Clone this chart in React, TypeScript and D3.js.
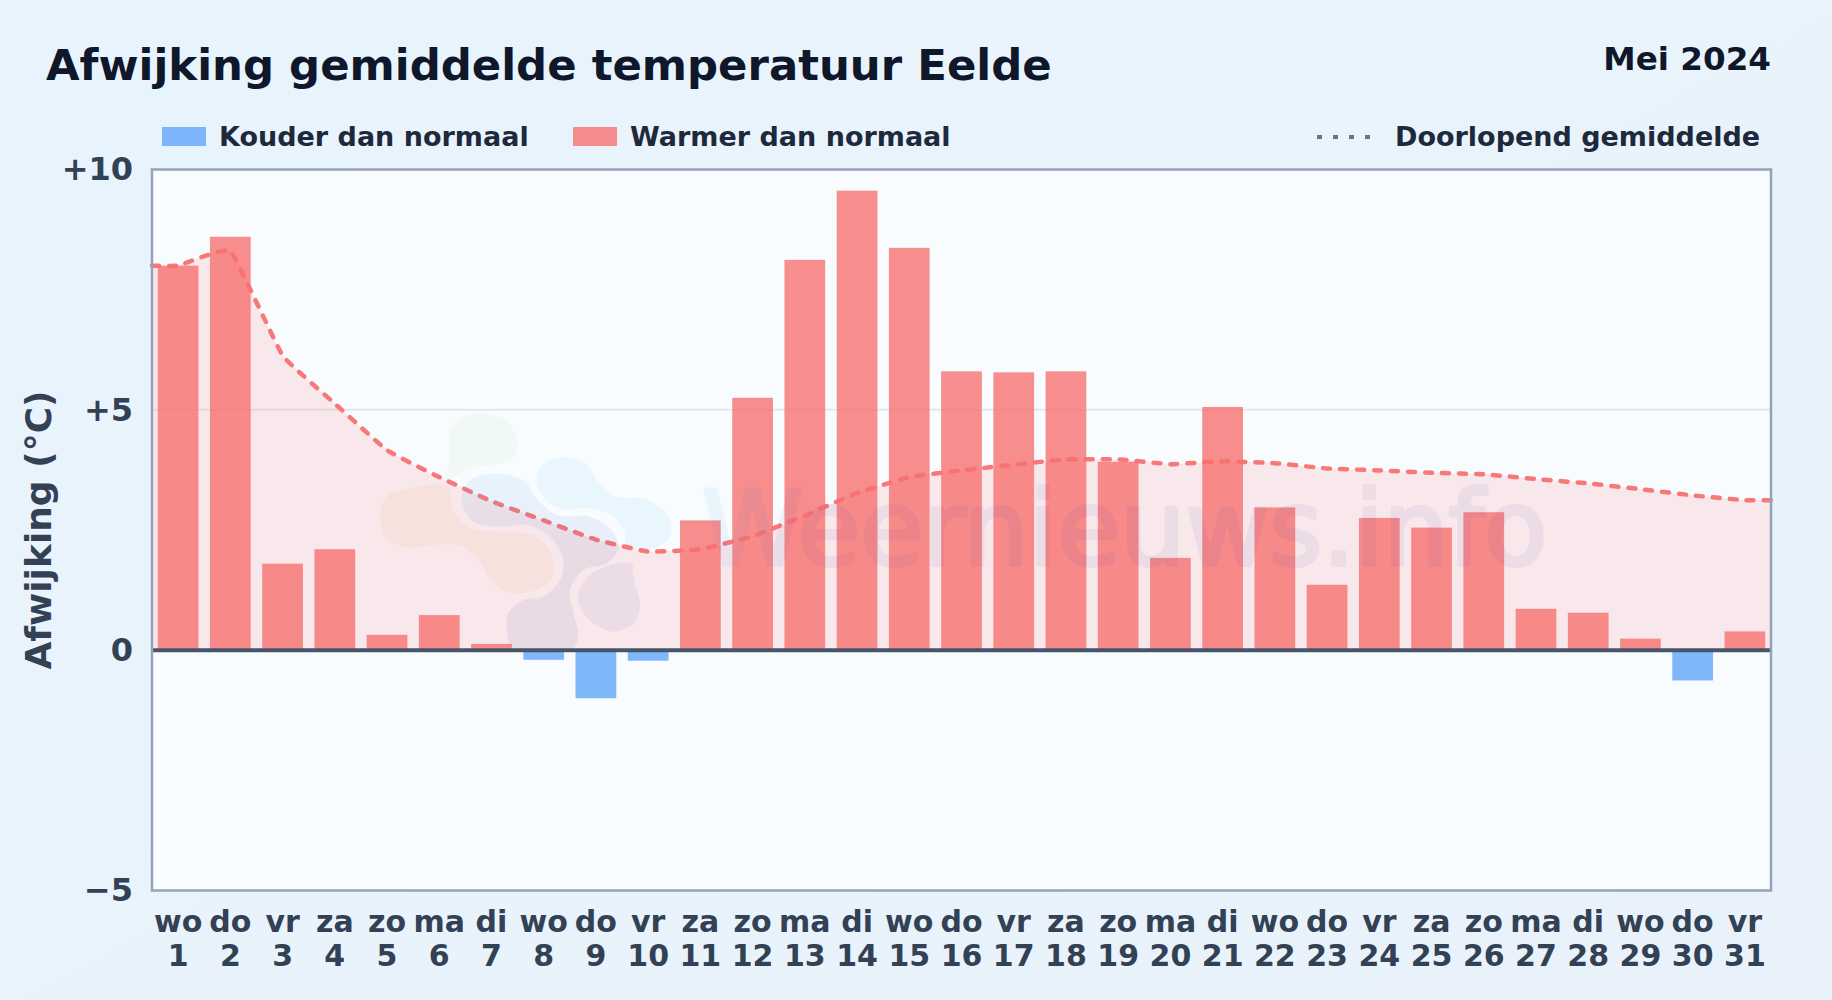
import * as d3 from 'd3';
import { useEffect, useRef } from 'react';

const WEEKDAYS = ['wo', 'do', 'vr', 'za', 'zo', 'ma', 'di', 'wo', 'do', 'vr', 'za', 'zo', 'ma', 'di', 'wo', 'do', 'vr', 'za', 'zo', 'ma', 'di', 'wo', 'do', 'vr', 'za', 'zo', 'ma', 'di', 'wo', 'do', 'vr'];
const DAYS = [1, 2, 3, 4, 5, 6, 7, 8, 9, 10, 11, 12, 13, 14, 15, 16, 17, 18, 19, 20, 21, 22, 23, 24, 25, 26, 27, 28, 29, 30, 31];
const DEVIATION = [8.0, 8.6, 1.8, 2.1, 0.32, 0.73, 0.13, -0.2, -1.0, -0.22, 2.7, 5.25, 8.12, 9.56, 8.37, 5.8, 5.78, 5.8, 3.92, 1.92, 5.06, 2.97, 1.36, 2.75, 2.55, 2.87, 0.86, 0.78, 0.24, -0.63, 0.39];
const RUNNING_MEAN = [8.0, 8.3, 6.13, 5.13, 4.16, 3.6, 3.1, 2.7, 2.3, 2.05, 2.1, 2.37, 2.8, 3.27, 3.6, 3.74, 3.86, 3.97, 3.97, 3.87, 3.93, 3.89, 3.78, 3.74, 3.69, 3.66, 3.56, 3.47, 3.35, 3.22, 3.12];
const Y_TICKS = [-5, 0, 5, 10];
const GRID_TICKS = [5];

const WIDTH = 1832;
const HEIGHT = 1000;
const FONT = '"DejaVu Sans", sans-serif';
const PLOT = { left: 152, right: 1771, top: 169.5, bottom: 890.5 };

// faint logo behind the watermark text, outlines traced at 3x from (360,400)
const LOGO: { points: [number, number][]; color: string; opacity: number }[] = [
  {
    points: [[268, 95], [310, 52], [375, 40], [440, 65], [472, 125], [458, 175], [400, 195], [330, 205], [290, 225], [255, 245], [268, 185], [268, 130]],
    color: '#8cc63f',
    opacity: 0.06,
  },
  {
    points: [[60, 340], [85, 285], [150, 265], [215, 255], [265, 260], [280, 330], [330, 385], [420, 395], [530, 410], [580, 480], [570, 540], [500, 578], [430, 570], [385, 530], [350, 470], [290, 435], [220, 435], [140, 442], [80, 415]],
    color: '#e8963a',
    opacity: 0.08,
  },
  {
    points: [[530, 230], [560, 185], [620, 172], [680, 195], [715, 245], [770, 290], [860, 298], [925, 350], [930, 410], [880, 445], [800, 435], [795, 400], [760, 350], [690, 325], [600, 325], [550, 290]],
    color: '#35a7f2',
    opacity: 0.07,
  },
  {
    points: [[305, 300], [330, 240], [420, 222], [495, 245], [530, 295], [590, 345], [690, 350], [750, 385], [775, 445], [740, 490], [670, 510], [630, 570], [640, 640], [655, 700], [640, 745], [460, 745], [440, 690], [445, 640], [490, 600], [550, 590], [600, 540], [610, 480], [570, 410], [500, 375], [420, 380], [340, 365]],
    color: 'url(#logo-mid)',
    opacity: 0.09,
  },
  {
    points: [[655, 580], [690, 525], [770, 490], [815, 490], [820, 530], [840, 620], [820, 670], [760, 695], [700, 670], [665, 630]],
    color: '#5a4b9e',
    opacity: 0.07,
  },
];

function App() {
  const svgRef = useRef<SVGSVGElement>(null);

  useEffect(() => {
    if (!svgRef.current) { return; }
    const svg = d3.select(svgRef.current);
    svg.selectAll('*').remove();

    const x = d3.scaleBand<number>()
      .domain(DAYS)
      .range([PLOT.left, PLOT.right])
      .paddingInner(0.22)
      .paddingOuter(0.11);
    const y = d3.scaleLinear().domain([-5, 10]).range([PLOT.bottom, PLOT.top]);
    const center = (day: number) => (x(day) as number) + x.bandwidth() / 2;

    const defs = svg.append('defs');
    const bg = defs.append('linearGradient').attr('id', 'page-bg')
      .attr('x1', 0).attr('y1', 0).attr('x2', 1).attr('y2', 1);
    bg.append('stop').attr('offset', '0%').attr('stop-color', '#e8f4fd');
    bg.append('stop').attr('offset', '100%').attr('stop-color', '#e9f2fb');
    const wm = defs.append('linearGradient').attr('id', 'wm-text')
      .attr('x1', 0).attr('y1', 0).attr('x2', 1).attr('y2', 0);
    wm.append('stop').attr('offset', '0%').attr('stop-color', '#35a7f2');
    wm.append('stop').attr('offset', '12%').attr('stop-color', '#5a4b9e');
    wm.append('stop').attr('offset', '100%').attr('stop-color', '#4a4f9e');
    const mid = defs.append('linearGradient').attr('id', 'logo-mid')
      .attr('x1', 0).attr('y1', 0).attr('x2', 0).attr('y2', 1);
    mid.append('stop').attr('offset', '0%').attr('stop-color', '#35a7f2');
    mid.append('stop').attr('offset', '45%').attr('stop-color', '#5a4b9e');
    mid.append('stop').attr('offset', '100%').attr('stop-color', '#5a4b9e');

    svg.append('rect').attr('width', WIDTH).attr('height', HEIGHT).attr('fill', 'url(#page-bg)');
    svg.append('rect')
      .attr('x', PLOT.left).attr('y', PLOT.top)
      .attr('width', PLOT.right - PLOT.left).attr('height', PLOT.bottom - PLOT.top)
      .attr('fill', '#f8fcff');

    // Title
    svg.append('text').attr('x', 46).attr('y', 80)
      .attr('font-size', 43.4).attr('font-weight', 700).attr('fill', '#0f172a')
      .attr('font-family', FONT).text('Afwijking gemiddelde temperatuur Eelde');
    svg.append('text').attr('x', 1771).attr('y', 70).attr('text-anchor', 'end')
      .attr('font-size', 32.6).attr('font-weight', 700).attr('fill', '#0f172a')
      .attr('font-family', FONT).text('Mei 2024');

    // Legend
    const legendText = (px: number, label: string) => svg.append('text')
      .attr('x', px).attr('y', 146)
      .attr('font-size', 27).attr('font-weight', 700).attr('fill', '#1e293b')
      .attr('font-family', FONT).text(label);
    svg.append('rect').attr('x', 162).attr('y', 127).attr('width', 44).attr('height', 19)
      .attr('fill', '#60a5fa').attr('opacity', 0.8);
    legendText(219, 'Kouder dan normaal');
    svg.append('rect').attr('x', 573).attr('y', 127).attr('width', 44).attr('height', 19)
      .attr('fill', '#f87171').attr('opacity', 0.8);
    legendText(630, 'Warmer dan normaal');
    svg.append('line').attr('x1', 1317).attr('x2', 1375).attr('y1', 137).attr('y2', 137)
      .attr('stroke', '#64748b').attr('stroke-width', 4).attr('stroke-dasharray', '5 11');
    legendText(1395, 'Doorlopend gemiddelde');

    // Grid
    svg.append('g').selectAll('line').data(GRID_TICKS).join('line')
      .attr('x1', PLOT.left).attr('x2', PLOT.right)
      .attr('y1', d => y(d)).attr('y2', d => y(d))
      .attr('stroke', '#e2e8f0').attr('stroke-width', 2);

    // Running mean reaches both plot edges, first and last value held
    const meanPoints: [number, number][] = [
      [PLOT.left, RUNNING_MEAN[0]],
      ...DAYS.map((d, i) => [center(d), RUNNING_MEAN[i]] as [number, number]),
      [PLOT.right, RUNNING_MEAN[RUNNING_MEAN.length - 1]],
    ];
    const curve = d3.curveCardinal.tension(0.7);
    const area = d3.area<[number, number]>()
      .x(d => d[0]).y0(y(0)).y1(d => y(d[1])).curve(curve);
    const line = d3.line<[number, number]>()
      .x(d => d[0]).y(d => y(d[1])).curve(curve);

    svg.append('path').attr('d', area(meanPoints)).attr('fill', '#f87171').attr('fill-opacity', 0.14);

    // Bars
    svg.append('g').selectAll('rect').data(DAYS).join('rect')
      .attr('x', d => x(d) as number)
      .attr('width', x.bandwidth())
      .attr('y', (_, i) => y(Math.max(0, DEVIATION[i])))
      .attr('height', (_, i) => Math.abs(y(DEVIATION[i]) - y(0)))
      .attr('fill', (_, i) => DEVIATION[i] < 0 ? '#60a5fa' : '#f87171')
      .attr('opacity', 0.8);

    svg.append('path').attr('d', line(meanPoints))
      .attr('fill', 'none').attr('stroke', '#f87171').attr('stroke-opacity', 0.95)
      .attr('stroke-width', 4.5).attr('stroke-linecap', 'round').attr('stroke-dasharray', '7 10');

    // Watermark
    const outline = d3.line().curve(d3.curveCatmullRomClosed);
    const logo = svg.append('g').attr('transform', 'translate(360,400) scale(0.3333)');
    logo.selectAll('path').data(LOGO).join('path')
      .attr('d', d => outline(d.points))
      .attr('fill', d => d.color)
      .attr('opacity', d => d.opacity);
    svg.append('text').attr('x', 702).attr('y', 565)
      .attr('opacity', 0.07)
      .attr('font-size', 102.5).attr('font-weight', 400)
      .attr('fill', 'url(#wm-text)').attr('stroke', 'url(#wm-text)').attr('stroke-width', 4)
      .attr('stroke-linejoin', 'round')
      .attr('font-family', FONT).text('Weernieuws.info');

    // Zero line and frame
    svg.append('line').attr('x1', PLOT.left).attr('x2', PLOT.right)
      .attr('y1', y(0)).attr('y2', y(0)).attr('stroke', '#475569').attr('stroke-width', 4);
    svg.append('rect')
      .attr('x', PLOT.left).attr('y', PLOT.top)
      .attr('width', PLOT.right - PLOT.left).attr('height', PLOT.bottom - PLOT.top)
      .attr('fill', 'none').attr('stroke', '#94a3b8').attr('stroke-width', 2.5);

    // Axes
    const yAxis = svg.append('g').attr('transform', `translate(${PLOT.left},0)`)
      .call(d3.axisLeft(y).tickValues(Y_TICKS).tickSize(0).tickPadding(19)
        .tickFormat(d => {
          const v = +d;
          return v > 0 ? `+${v}` : v < 0 ? `\u2212${-v}` : '0';
        }));
    yAxis.select('.domain').remove();
    yAxis.selectAll('text')
      .attr('fill', '#334155').attr('font-size', 32).attr('font-weight', 700).attr('font-family', FONT);

    const xAxis = svg.append('g').attr('transform', `translate(0,${PLOT.bottom})`)
      .call(d3.axisBottom(x).tickSize(0).tickFormat(() => ''));
    xAxis.select('.domain').remove();
    const labels = xAxis.selectAll<SVGTextElement, number>('text')
      .attr('y', 0).attr('dy', null)
      .attr('fill', '#334155').attr('font-size', 30).attr('font-weight', 700).attr('font-family', FONT);
    labels.append('tspan').attr('x', 0).attr('y', 41).text((_, i) => WEEKDAYS[i]);
    labels.append('tspan').attr('x', 0).attr('y', 75).text(d => d);

    svg.append('text')
      .attr('transform', `translate(51,${(PLOT.top + PLOT.bottom) / 2}) rotate(-90)`)
      .attr('text-anchor', 'middle')
      .attr('font-size', 36).attr('font-weight', 700).attr('fill', '#334155')
      .attr('font-family', FONT).text('Afwijking (°C)');
  }, []);

  return (
    <svg
      ref={svgRef}
      width={WIDTH}
      height={HEIGHT}
      style={{ position: 'absolute', left: 0, top: 0, display: 'block' }}
    />
  );
}

export default App;
